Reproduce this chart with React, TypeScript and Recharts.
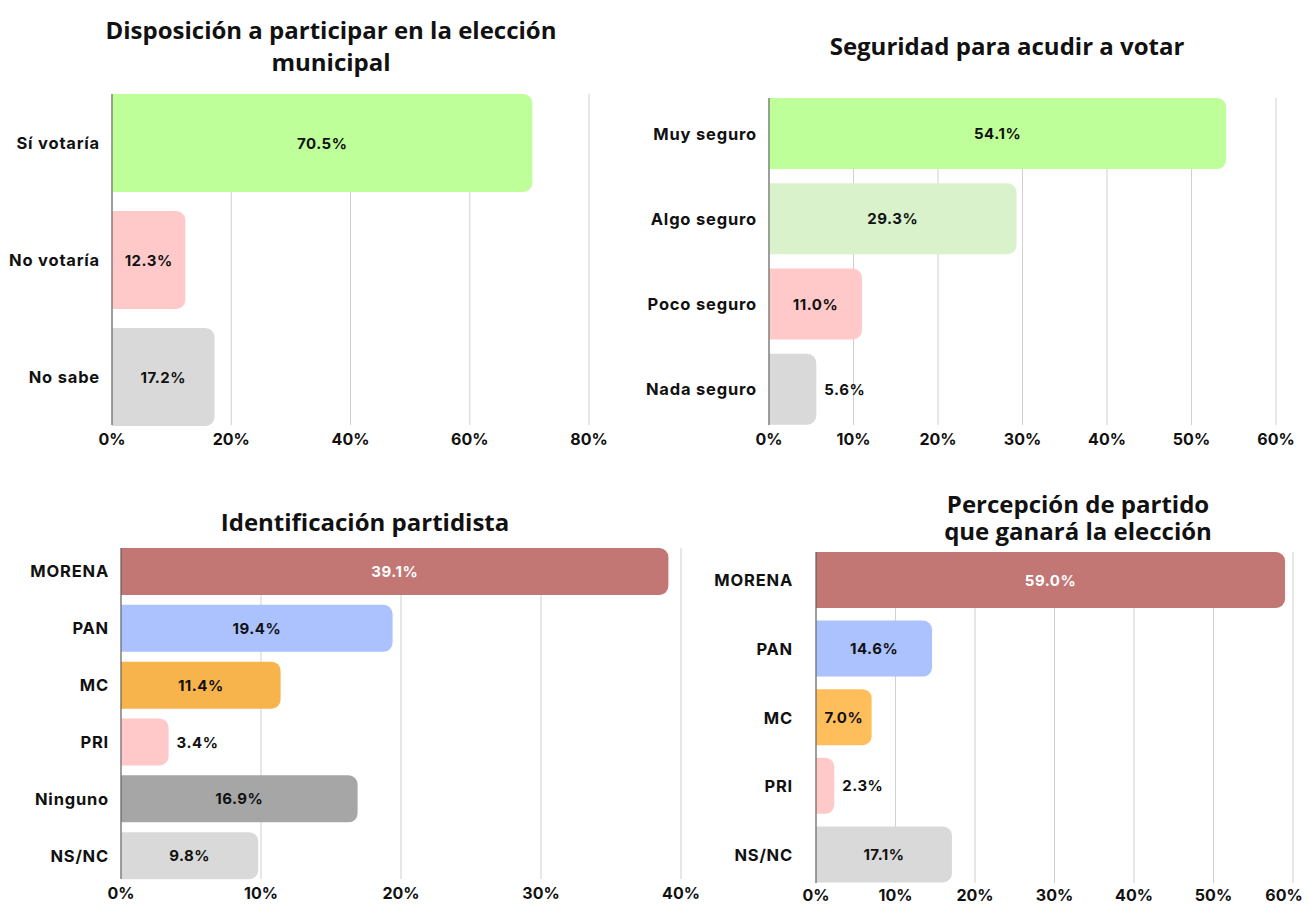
import { BarChart, Bar, XAxis, YAxis, CartesianGrid, Cell, LabelList } from "recharts";

const LABEL_FONT = "Inter, 'Noto Sans', sans-serif";
const TITLE_FONT = "'Open Sans', 'Noto Sans', sans-serif";

// Disposición a participar
const dispCats = ["Sí votaría", "No votaría", "No sabe"];
const dispValues = [70.5, 12.3, 17.2];
const dispColors = ["#bfff9a", "#ffc9c9", "#d9d9d9"];
const dispTicks = [0, 20, 40, 60, 80];

// Seguridad para acudir a votar
const segCats = ["Muy seguro", "Algo seguro", "Poco seguro", "Nada seguro"];
const segValues = [54.1, 29.3, 11.0, 5.6];
const segColors = ["#bfff9a", "#d9f2cc", "#ffc9c9", "#d9d9d9"];
const segTicks = [0, 10, 20, 30, 40, 50, 60];

// Identificación partidista
const idCats = ["MORENA", "PAN", "MC", "PRI", "Ninguno", "NS/NC"];
const idValues = [39.1, 19.4, 11.4, 3.4, 16.9, 9.8];
const idColors = ["#c27774", "#abc2ff", "#f7b44c", "#ffc9c9", "#a6a6a6", "#d9d9d9"];
const idTicks = [0, 10, 20, 30, 40];

// Percepción de partido que ganará
const winCats = ["MORENA", "PAN", "MC", "PRI", "NS/NC"];
const winValues = [59.0, 14.6, 7.0, 2.3, 17.1];
const winColors = ["#c27774", "#abc2ff", "#ffbe5c", "#ffc9c9", "#d9d9d9"];
const winTicks = [0, 10, 20, 30, 40, 50, 60];

const build = (cats: string[], vals: number[]) =>
  cats.map((name, i) => ({ name, value: vals[i] }));

function ValueLabel(props: any) {
  const { x, y, width, height, value, index, whiteFirst } = props;
  const inside = width >= 52;
  const fill = whiteFirst && index === 0 ? "#ffffff" : "#111111";
  return (
    <text
      x={inside ? x + width / 2 : x + width + 8}
      y={y + height / 2}
      textAnchor={inside ? "middle" : "start"}
      dominantBaseline="central"
      fontFamily={LABEL_FONT}
      fontWeight={700}
      fontSize={15}
      letterSpacing={0.5}
      fill={fill}
    >
      {value.toFixed(1)}%
    </text>
  );
}

function XTick(props: any) {
  const { x, y, payload, limit, dy } = props;
  const shift = limit && x + 20 > limit ? limit - 20 - x : 0;
  return (
    <text
      x={x + shift}
      y={y + (dy ?? 6)}
      textAnchor="middle"
      dominantBaseline="central"
      fontFamily={LABEL_FONT}
      fontWeight={700}
      fontSize={16}
      fill="#111"
    >
      {payload.value}%
    </text>
  );
}

function YTick(props: any) {
  const { x, y, payload, extra } = props;
  return (
    <text
      x={x - (extra || 0)}
      y={y}
      textAnchor="end"
      dominantBaseline="central"
      fontFamily={LABEL_FONT}
      fontWeight={700}
      fontSize={16.5}
      letterSpacing={0.8}
      fill="#111"
    >
      {payload.value}
    </text>
  );
}

interface PanelProps {
  cats: string[];
  vals: number[];
  colors: string[];
  ticks: number[];
  left: number;
  top: number;
  width: number;
  height: number;
  yWidth: number;
  right: number;
  xHeight: number;
  barSize: number;
  pad: number;
  limit?: number;
  whiteFirst?: boolean;
  yExtra?: number;
  tickDy?: number;
}

function Panel(p: PanelProps) {
  const data = build(p.cats, p.vals);
  return (
    <div style={{ position: "absolute", left: p.left, top: p.top }}>
      <BarChart
        width={p.width}
        height={p.height}
        data={data}
        layout="vertical"
        margin={{ top: 10, right: p.right, left: 0, bottom: 0 }}
        barSize={p.barSize}
      >
        <CartesianGrid horizontal={false} stroke="#d0d0d0" />
        <XAxis
          type="number"
          domain={[p.ticks[0], p.ticks[p.ticks.length - 1]]}
          ticks={p.ticks}
          axisLine={false}
          tickLine={false}
          height={p.xHeight}
          tick={<XTick limit={p.limit} dy={p.tickDy} />}
        />
        <YAxis
          type="category"
          dataKey="name"
          width={p.yWidth}
          axisLine={{ stroke: "#555" }}
          tickLine={false}
          tickMargin={6}
          padding={{ top: -p.pad, bottom: -p.pad }}
          tick={<YTick extra={p.yExtra} />}
        />
        <Bar dataKey="value" radius={[0, 9, 9, 0]} isAnimationActive={false}>
          {data.map((_d, i) => (
            <Cell key={`c-${i}`} fill={p.colors[i]} />
          ))}
          <LabelList
            dataKey="value"
            content={(lp: any) => <ValueLabel {...lp} whiteFirst={p.whiteFirst} />}
          />
        </Bar>
      </BarChart>
    </div>
  );
}

const titleStyle = (left: number, top: number, width: number, size: number, lh: number) => ({
  position: "absolute" as const,
  left,
  top,
  width,
  textAlign: "center" as const,
  fontFamily: TITLE_FONT,
  fontWeight: 700,
  fontSize: size,
  lineHeight: `${lh}px`,
  color: "#111",
  letterSpacing: 0,
});

export default function App() {
  return (
    <div
      style={{
        position: "absolute",
        left: 0,
        top: 0,
        width: 1311,
        height: 905,
        background: "#fff",
        overflow: "hidden",
      }}
    >
      <div style={titleStyle(31, 14, 600, 24, 32)}>
        Disposición a participar en la elección
        <br />
        municipal
      </div>
      <div style={titleStyle(707, 30, 600, 24, 32)}>Seguridad para acudir a votar</div>
      <div style={titleStyle(65, 506, 600, 24, 32)}>Identificación partidista</div>
      <div style={titleStyle(778, 490, 600, 24, 27)}>
        Percepción de partido
        <br />
        que ganará la elección
      </div>

      <Panel
        cats={dispCats}
        vals={dispValues}
        colors={dispColors}
        ticks={dispTicks}
        left={0}
        top={84}
        width={620}
        height={381}
        yWidth={112}
        right={31}
        xHeight={40}
        barSize={98}
        pad={10}
      />
      <Panel
        cats={segCats}
        vals={segValues}
        colors={segColors}
        ticks={segTicks}
        left={640}
        top={88}
        width={671}
        height={377}
        yWidth={129}
        right={35}
        xHeight={40}
        barSize={71}
        pad={7}
      />
      <Panel
        cats={idCats}
        vals={idValues}
        colors={idColors}
        ticks={idTicks}
        left={0}
        top={538}
        width={720}
        height={367}
        yWidth={121}
        right={39}
        xHeight={26}
        barSize={47}
        pad={5}
        whiteFirst
      />
      <Panel
        cats={winCats}
        vals={winValues}
        colors={winColors}
        ticks={winTicks}
        left={700}
        top={542}
        width={611}
        height={363}
        yWidth={116}
        right={18}
        xHeight={22}
        barSize={56}
        pad={6}
        limit={604}
        yExtra={11}
        tickDy={4}
        whiteFirst
      />
    </div>
  );
}
